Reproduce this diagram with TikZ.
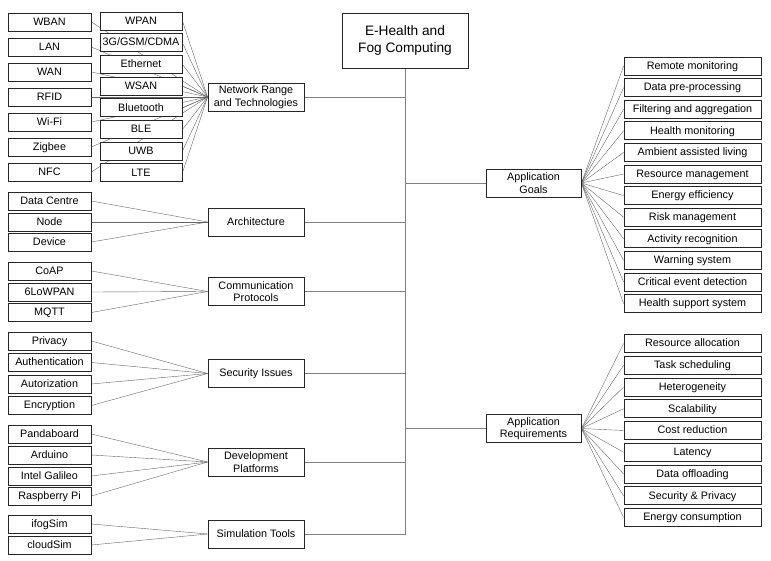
\documentclass[tikz,border=0pt]{standalone}
\usepackage{fontspec}
\setmainfont{Liberation Sans}
\usetikzlibrary{positioning,backgrounds}

\begin{document}
\begin{tikzpicture}[x=1pt, y=-1pt,
    box/.style={rectangle, draw=black!85, line width=0.8pt, fill=white, inner sep=0pt, text height=7.8pt, text depth=1.2pt, font=\fontsize{10.8}{12.5}\selectfont},
    % multi-line labels get their natural box back
    twoline/.style={align=center, text height={}, text depth={}},
    % leaf boxes of the left and right columns
    leaf/.style={box, minimum width=83pt, minimum height=18pt},
    tech/.style={box, minimum width=82pt, minimum height=18pt},
    goal/.style={box, minimum width=137pt, minimum height=18pt},
    % second level and root
    topic/.style={box, minimum width=96pt, minimum height=28pt},
    rootbox/.style={box, twoline, minimum width=126pt, minimum height=55pt, font=\fontsize{13.7}{16.5}\selectfont},
    link/.style={draw=black!60, line width=0.4pt},
    trunk/.style={draw=black!50, line width=0.6pt}
  ]
    \useasboundingbox (0,0) rectangle (771,561);

    %--- Root and trunk level ---
    \node[rootbox] (root) at (405,40.5) {E-Health and\\Fog Computing};

    \node[topic, twoline] (net)  at (256,97)    {Network Range\\and Technologies};
    \node[topic]          (arch) at (256,222)   {Architecture};
    \node[topic, twoline] (comm) at (256,291.5) {Communication\\Protocols};
    \node[topic]          (sec)  at (256,373.5) {Security Issues};
    \node[topic, twoline] (dev)  at (256,462)   {Development\\Platforms};
    \node[topic]          (sim)  at (256,534)   {Simulation Tools};

    \node[topic, twoline, minimum width=95pt] (goals) at (533.5,183)   {Application\\Goals};
    \node[topic, twoline, minimum width=95pt] (req)   at (533.5,428.5) {Application\\Requirements};

    %--- Network range: outer column ---
    \node[leaf] (wban)   at (49.5,22)  {WBAN};
    \node[leaf] (lan)    at (49.5,47)  {LAN};
    \node[leaf] (wan)    at (49.5,72)  {WAN};
    \node[leaf] (rfid)   at (49.5,97)  {RFID};
    \node[leaf] (wifi)   at (49.5,122) {Wi-Fi};
    \node[leaf] (zigbee) at (49.5,147) {Zigbee};
    \node[leaf] (nfc)    at (49.5,172) {NFC};

    %--- Network range: inner column ---
    \node[tech] (wpan)  at (141,21)    {WPAN};
    \node[tech] (gsm)   at (141,42.7)  {3G/GSM/CDMA};
    \node[tech] (eth)   at (141,64.4)  {Ethernet};
    \node[tech] (wsan)  at (141,86.1)  {WSAN};
    \node[tech] (bt)    at (141,107.8) {Bluetooth};
    \node[tech] (ble)   at (141,129.5) {BLE};
    \node[tech] (uwb)   at (141,151.2) {UWB};
    \node[tech] (lte)   at (141,172.9) {LTE};

    %--- Architecture, protocols, security ---
    \node[leaf] (dc)     at (49.5,201)   {Data Centre};
    \node[leaf] (fnode)  at (49.5,222)   {Node};
    \node[leaf] (device) at (49.5,242)   {Device};

    \node[leaf] (coap)    at (49.5,271)   {CoAP};
    \node[leaf] (lowpan)  at (49.5,292)   {6LoWPAN};
    \node[leaf] (mqtt)    at (49.5,312.5) {MQTT};

    \node[leaf] (priv)  at (49.5,341)   {Privacy};
    \node[leaf] (authn) at (49.5,362.5) {Authentication};
    \node[leaf] (authz) at (49.5,384)   {Autorization};
    \node[leaf] (enc)   at (49.5,405.5) {Encryption};

    %--- Platforms and simulators ---
    \node[leaf] (panda)   at (49.5,434) {Pandaboard};
    \node[leaf] (arduino) at (49.5,455) {Arduino};
    \node[leaf] (galileo) at (49.5,476) {Intel Galileo};
    \node[leaf] (rpi)     at (49.5,496) {Raspberry Pi};

    \node[leaf] (ifog)  at (49.5,524) {ifogSim};
    \node[leaf] (cloud) at (49.5,545) {cloudSim};

    %--- Application goals ---
    \node[goal] (g1)  at (692.5,66)    {Remote monitoring};
    \node[goal] (g2)  at (692.5,87.6)  {Data pre-processing};
    \node[goal] (g3)  at (692.5,109.2) {Filtering and aggregation};
    \node[goal] (g4)  at (692.5,130.8) {Health monitoring};
    \node[goal] (g5)  at (692.5,152.4) {Ambient assisted living};
    \node[goal] (g6)  at (692.5,174)   {Resource management};
    \node[goal] (g7)  at (692.5,195.6) {Energy efficiency};
    \node[goal] (g8)  at (692.5,217.2) {Risk management};
    \node[goal] (g9)  at (692.5,238.8) {Activity recognition};
    \node[goal] (g10) at (692.5,260.4) {Warning system};
    \node[goal] (g11) at (692.5,282)   {Critical event detection};
    \node[goal] (g12) at (692.5,303.6) {Health support system};

    %--- Application requirements ---
    \node[goal] (r1) at (692.5,343.5)  {Resource allocation};
    \node[goal] (r2) at (692.5,365.25) {Task scheduling};
    \node[goal] (r3) at (692.5,387)    {Heterogeneity};
    \node[goal] (r4) at (692.5,408.75) {Scalability};
    \node[goal] (r5) at (692.5,430.5)  {Cost reduction};
    \node[goal] (r6) at (692.5,452.25) {Latency};
    \node[goal] (r7) at (692.5,474)    {Data offloading};
    \node[goal] (r8) at (692.5,495.75) {Security \& Privacy};
    \node[goal] (r9) at (692.5,517.5)  {Energy consumption};

    %--- Edges, kept behind the boxes
    \begin{scope}[on background layer]
      % trunk and its branches
      \draw[trunk] (root.south) -- (root.south |- sim.east) -- (sim.east);
      \draw[trunk] (net.east)   -- (net.east -| root.south);
      \draw[trunk] (arch.east)  -- (arch.east -| root.south);
      \draw[trunk] (comm.east)  -- (comm.east -| root.south);
      \draw[trunk] (sec.east)   -- (sec.east -| root.south);
      \draw[trunk] (dev.east)   -- (dev.east -| root.south);
      \draw[trunk] (goals.west) -- (goals.west -| root.south);
      \draw[trunk] (req.west)   -- (req.west -| root.south);

      % network range fans (outer lines pass behind the inner column)
      \draw[link] (wban.east)   -- (net.west);
      \draw[link] (lan.east)    -- (net.west);
      \draw[link] (wan.east)    -- (net.west);
      \draw[link] (rfid.east)   -- (net.west);
      \draw[link] (wifi.east)   -- (net.west);
      \draw[link] (zigbee.east) -- (net.west);
      \draw[link] (nfc.east)    -- (net.west);
      \draw[link] (wpan.east) -- (net.west);
      \draw[link] (gsm.east)  -- (net.west);
      \draw[link] (eth.east)  -- (net.west);
      \draw[link] (wsan.east) -- (net.west);
      \draw[link] (bt.east)   -- (net.west);
      \draw[link] (ble.east)  -- (net.west);
      \draw[link] (uwb.east)  -- (net.west);
      \draw[link] (lte.east)  -- (net.west);

      \draw[link] (dc.east)     -- (arch.west);
      \draw[link] (fnode.east)  -- (arch.west);
      \draw[link] (device.east) -- (arch.west);

      \draw[link] (coap.east)   -- (comm.west);
      \draw[link] (lowpan.east) -- (comm.west);
      \draw[link] (mqtt.east)   -- (comm.west);

      \draw[link] (priv.east)  -- (sec.west);
      \draw[link] (authn.east) -- (sec.west);
      \draw[link] (authz.east) -- (sec.west);
      \draw[link] (enc.east)   -- (sec.west);

      \draw[link] (panda.east)   -- (dev.west);
      \draw[link] (arduino.east) -- (dev.west);
      \draw[link] (galileo.east) -- (dev.west);
      \draw[link] (rpi.east)     -- (dev.west);

      \draw[link] (ifog.east)  -- (sim.west);
      \draw[link] (cloud.east) -- (sim.west);

      % right fans
      \draw[link] (goals.east) -- (g1.west);
      \draw[link] (goals.east) -- (g2.west);
      \draw[link] (goals.east) -- (g3.west);
      \draw[link] (goals.east) -- (g4.west);
      \draw[link] (goals.east) -- (g5.west);
      \draw[link] (goals.east) -- (g6.west);
      \draw[link] (goals.east) -- (g7.west);
      \draw[link] (goals.east) -- (g8.west);
      \draw[link] (goals.east) -- (g9.west);
      \draw[link] (goals.east) -- (g10.west);
      \draw[link] (goals.east) -- (g11.west);
      \draw[link] (goals.east) -- (g12.west);

      \draw[link] (req.east) -- (r1.west);
      \draw[link] (req.east) -- (r2.west);
      \draw[link] (req.east) -- (r3.west);
      \draw[link] (req.east) -- (r4.west);
      \draw[link] (req.east) -- (r5.west);
      \draw[link] (req.east) -- (r6.west);
      \draw[link] (req.east) -- (r7.west);
      \draw[link] (req.east) -- (r8.west);
      \draw[link] (req.east) -- (r9.west);
    \end{scope}
  \end{tikzpicture}
\end{document}
